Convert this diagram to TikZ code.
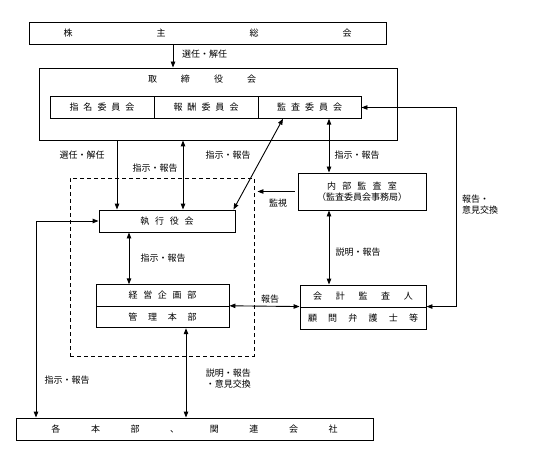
\documentclass[tikz,border=0pt]{standalone}
\usepackage{fontspec}
\setmainfont{Noto Sans CJK JP}
\usetikzlibrary{arrows.meta,positioning}

% letter-spaced text
\newcommand{\spaced}[2]{\def\spgap{#1}\spacedloop#2\relax}
\def\spacedloop#1#2{#1\ifx#2\relax\else\hspace{\spgap}\expandafter\spacedloop\fi#2}

\begin{document}
\begin{tikzpicture}[
    x=1pt, y=-1pt,
    font=\fontsize{9}{11}\selectfont,
    box/.style={rectangle, draw, line width=0.9pt, inner sep=0pt, minimum height=21.5pt},
    group/.style={rectangle, draw, line width=0.9pt, dash pattern=on 4pt off 3pt},
    arr/.style={-{Triangle[length=6pt,width=4.5pt]}, line width=0.9pt},
    dbl/.style={{Triangle[length=6pt,width=4.5pt]}-{Triangle[length=6pt,width=4.5pt]}, line width=0.9pt},
    lbl/.style={inner sep=0pt}
]
    \useasboundingbox (0,0) rectangle (553,454);

    % Boards
    \node[box, minimum width=357pt] (soukai) at (207.5,33.5) {\spaced{84pt}{株主総会}};
    \node[box, minimum width=358pt, minimum height=72pt] (torishimari) at (218,104) {};
    \node[lbl] (torititle) at (202,79) {\spaced{24pt}{取締役会}};
    \node[box, minimum width=104pt] (shimei) at (102,107.5) {\spaced{5pt}{指名委員会}};
    \node[box, minimum width=104pt] (hoshu) at (206,107.5) {\spaced{5pt}{報酬委員会}};
    \node[box, minimum width=103pt] (kansa) at (309.5,107.5) {\spaced{5pt}{監査委員会}};

    % Executive group
    \node[group, minimum width=184pt, minimum height=178pt] (execgroup) at (162,267) {};
    \node[box, minimum width=136pt, minimum height=22pt] (shikkou) at (167,221) {\spaced{5.7pt}{執行役会}};
    \node[box, minimum width=133pt] (keiei) at (162.5,295.5) {\spaced{5.7pt}{経営企画部}};
    \node[box, minimum width=133pt] (kanri) at (162.5,317) {\spaced{10.7pt}{管理本部}};

    % Audit side
    \node[box, minimum width=128pt, minimum height=37pt, align=center] (naibu) at (362,191.5)
        {\spaced{6.2pt}{内部監査室}\\（監査委員会事務局）};
    \node[box, minimum width=126pt, minimum height=22pt] (kaikei) at (363,296) {\spaced{13.7pt}{会計監査人}};
    \node[box, minimum width=126pt, minimum height=22pt] (komon) at (363,318) {\spaced{11.2pt}{顧問弁護士等}};

    % Divisions
    \node[box, minimum width=357pt, minimum height=22pt] (kakuhonbu) at (194.5,429) {\spaced{30.6pt}{各本部、関連会社}};

    % Connector columns
    \coordinate (xleft) at (36,0);
    \coordinate (xsen) at (117,0);
    \coordinate (xsoukai) at (173,0);
    \coordinate (xtori) at (183,0);
    \coordinate (xshik) at (129,0);
    \coordinate (xkanri) at (186,0);
    \coordinate (xdiag) at (283,0);
    \coordinate (xaudit) at (329,0);
    \coordinate (xright) at (456,0);

    % Connectors
    \draw[arr] (soukai.south -| xsoukai) -- (torishimari.north -| xsoukai);
    \draw[arr] (torishimari.south -| xsen) -- (shikkou.north -| xsen);
    \draw[dbl] (torishimari.south -| xtori) -- (shikkou.north -| xtori);
    \draw[dbl] (kansa.south -| xdiag) -- ([xshift=-2pt]shikkou.north east);
    \draw[dbl] (kansa.south -| xaudit) -- (naibu.north -| xaudit);
    \draw[arr] ([xshift=-3pt]naibu.west) -- ([xshift=3pt]naibu.west -| execgroup.east);
    \draw[dbl] (naibu.south -| xaudit) -- (kaikei.north -| xaudit);
    \draw[dbl] (shikkou.south -| xshik) -- (keiei.north -| xshik);
    \draw[dbl] (kanri.north east) -- (komon.north west);
    \draw[dbl] (kansa.east) -- (kansa.east -| xright) |- (komon.north east);
    \draw[dbl] (shikkou.west) -| (kakuhonbu.north -| xleft);
    \draw[dbl] (kanri.south -| xkanri) -- (kakuhonbu.north -| xkanri);

    % Labels
    \node[lbl, anchor=west] (l1) at (182,54) {選任・解任};
    \node[lbl] (l2) at (82,155) {選任・解任};
    \node[lbl] (l3) at (155,168) {指示・報告};
    \node[lbl] (l4) at (228,155) {指示・報告};
    \node[lbl] (l5) at (357,155) {指示・報告};
    \node[lbl] (l6) at (278,203) {監視};
    \node[lbl] (l7) at (358,252) {説明・報告};
    \node[lbl] (l8) at (163,258) {指示・報告};
    \node[lbl] (l9) at (270,299) {報告};
    \node[lbl, align=right, anchor=east] (l10) at (251,379) {説明・報告\\・意見交換};
    \node[lbl, align=left, anchor=west] (l11) at (462,205) {報告・\\意見交換};
    \node[lbl] (l12) at (67,380) {指示・報告};
\end{tikzpicture}
\end{document}
